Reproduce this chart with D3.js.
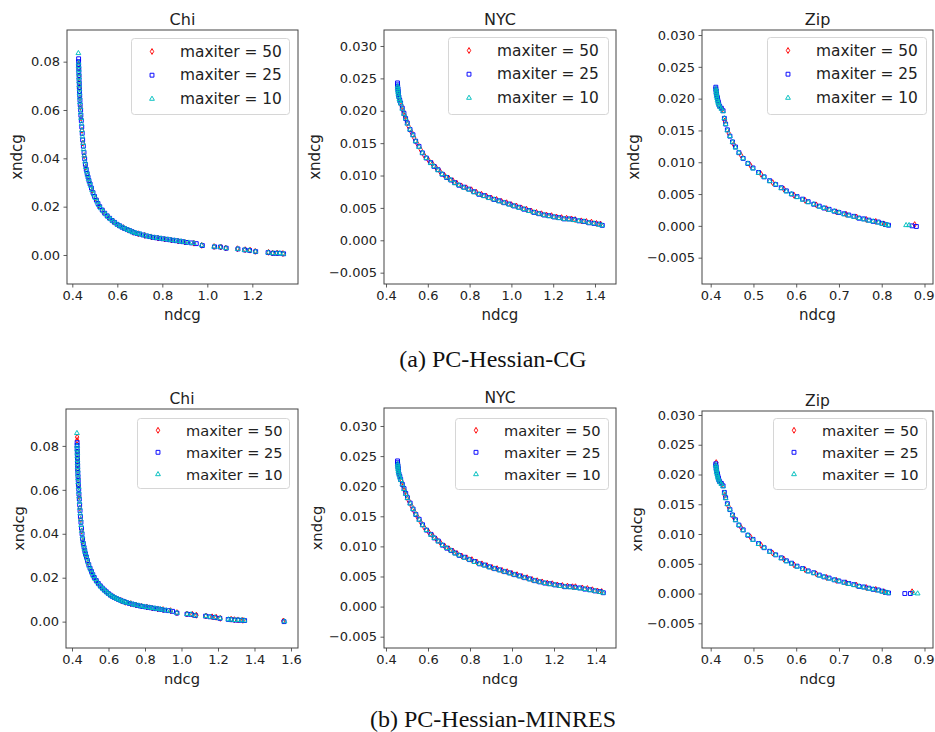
<!DOCTYPE html>
<html>
<head>
<meta charset="utf-8">
<script src="https://cdn.jsdelivr.net/npm/d3@7"></script>
<style>
  body { margin: 0; background: #fff; }
  svg { display: block; font-family: "DejaVu Sans", sans-serif; }
</style>
</head>
<body>
<script>
/**
 * DATA ([ndcg, xndcg])
 * */
const seriesNames = ["maxiter = 50", "maxiter = 25", "maxiter = 10"];
const panelTitles = ["Chi", "NYC", "Zip"];
const captions = ["(a) PC-Hessian-CG", "(b) PC-Hessian-MINRES"];

// x / y tick values
const chiXTicksCG = [0.4, 0.6, 0.8, 1.0, 1.2];
const chiXTicksMR = [0.4, 0.6, 0.8, 1.0, 1.2, 1.4, 1.6];
const chiYTicks = [0.00, 0.02, 0.04, 0.06, 0.08];
const nycXTicks = [0.4, 0.6, 0.8, 1.0, 1.2, 1.4];
const zipXTicks = [0.4, 0.5, 0.6, 0.7, 0.8, 0.9];
const smallYTicks = [-0.005, 0.000, 0.005, 0.010, 0.015, 0.020, 0.025, 0.030];

// ---- PC-Hessian-CG ----
const chiCG50 = [[0.428,0.0790],[0.429,0.0770],[0.430,0.0740],[0.431,0.0715],[0.432,0.0690],[0.434,0.0650],[0.436,0.0612],[0.439,0.0567],[0.443,0.0516],[0.447,0.0463],[0.453,0.0411],[0.460,0.0364],[0.468,0.0330],[0.476,0.0301],[0.488,0.0268],[0.503,0.0235],[0.518,0.0206],[0.538,0.0180],[0.560,0.0157],[0.582,0.0139],[0.604,0.0124],[0.627,0.0113],[0.649,0.0103],[0.671,0.0094],[0.693,0.0088],[0.722,0.0081],[0.751,0.0075],[0.781,0.0070],[0.810,0.0066],[0.840,0.0062],[0.870,0.0058],[0.899,0.0054],[0.940,0.0049],[0.975,0.0040],[1.030,0.0035],[1.060,0.0033],[1.082,0.0029],[1.134,0.0026],[1.168,0.0022],[1.190,0.0020],[1.213,0.0015],[1.272,0.0011],[1.290,0.0008],[1.310,0.0008],[1.336,0.0006]];
const chiCG25 = [[0.428,0.0812],[0.428,0.0800],[0.428,0.0787],[0.429,0.0773],[0.429,0.0758],[0.430,0.0742],[0.430,0.0726],[0.431,0.0710],[0.431,0.0694],[0.432,0.0677],[0.433,0.0660],[0.434,0.0641],[0.435,0.0622],[0.437,0.0600],[0.438,0.0578],[0.440,0.0556],[0.442,0.0530],[0.444,0.0503],[0.446,0.0476],[0.449,0.0450],[0.452,0.0424],[0.455,0.0398],[0.458,0.0375],[0.462,0.0354],[0.466,0.0337],[0.470,0.0322],[0.474,0.0308],[0.479,0.0294],[0.485,0.0277],[0.492,0.0258],[0.499,0.0242],[0.507,0.0227],[0.514,0.0213],[0.522,0.0200],[0.533,0.0186],[0.544,0.0173],[0.555,0.0162],[0.566,0.0152],[0.577,0.0143],[0.588,0.0135],[0.599,0.0127],[0.610,0.0121],[0.621,0.0115],[0.632,0.0110],[0.644,0.0105],[0.655,0.0101],[0.666,0.0096],[0.677,0.0092],[0.688,0.0089],[0.699,0.0087],[0.714,0.0083],[0.729,0.0079],[0.744,0.0076],[0.759,0.0073],[0.774,0.0071],[0.788,0.0069],[0.803,0.0067],[0.818,0.0065],[0.833,0.0063],[0.847,0.0061],[0.862,0.0059],[0.877,0.0057],[0.892,0.0055],[0.907,0.0052],[0.929,0.0050],[0.951,0.0047],[0.978,0.0039],[1.032,0.0034],[1.058,0.0033],[1.084,0.0028],[1.136,0.0025],[1.166,0.0021],[1.188,0.0019],[1.215,0.0014],[1.270,0.0010],[1.292,0.0007],[1.307,0.0007],[1.321,0.0007],[1.339,0.0005]];
const chiCG10 = [[0.427,0.0835],[0.428,0.0795],[0.428,0.0781],[0.429,0.0766],[0.429,0.0750],[0.430,0.0734],[0.430,0.0718],[0.431,0.0702],[0.432,0.0685],[0.432,0.0668],[0.433,0.0651],[0.434,0.0632],[0.436,0.0611],[0.437,0.0589],[0.439,0.0567],[0.441,0.0543],[0.443,0.0516],[0.445,0.0490],[0.448,0.0463],[0.450,0.0437],[0.453,0.0411],[0.457,0.0386],[0.460,0.0364],[0.464,0.0345],[0.468,0.0330],[0.472,0.0315],[0.477,0.0301],[0.482,0.0286],[0.488,0.0268],[0.495,0.0250],[0.503,0.0235],[0.511,0.0220],[0.518,0.0206],[0.527,0.0193],[0.538,0.0180],[0.549,0.0168],[0.560,0.0157],[0.571,0.0148],[0.582,0.0139],[0.593,0.0131],[0.604,0.0124],[0.615,0.0118],[0.627,0.0113],[0.638,0.0108],[0.649,0.0103],[0.660,0.0098],[0.671,0.0094],[0.682,0.0091],[0.693,0.0088],[0.706,0.0085],[0.722,0.0081],[0.737,0.0077],[0.751,0.0075],[0.766,0.0072],[0.781,0.0070],[0.795,0.0068],[0.810,0.0066],[0.825,0.0064],[0.840,0.0062],[0.855,0.0060],[0.870,0.0058],[0.884,0.0056],[0.899,0.0054],[0.918,0.0051],[0.940,0.0049],[0.975,0.0040],[1.030,0.0034],[1.057,0.0033],[1.083,0.0028],[1.135,0.0025],[1.165,0.0021],[1.187,0.0019],[1.214,0.0014],[1.271,0.0010],[1.291,0.0007],[1.308,0.0007],[1.322,0.0007],[1.338,0.0005]];

const nycCG50 = [[0.457,0.0235],[0.458,0.0230],[0.460,0.0226],[0.464,0.0219],[0.474,0.0208],[0.482,0.0200],[0.490,0.0192],[0.498,0.0185],[0.508,0.0176],[0.522,0.0167],[0.535,0.0158],[0.550,0.0149],[0.566,0.0140],[0.583,0.0131],[0.603,0.0124],[0.622,0.0118],[0.640,0.0112],[0.659,0.0106],[0.680,0.0100],[0.700,0.0096],[0.720,0.0092],[0.739,0.0088],[0.761,0.0084],[0.785,0.0081],[0.809,0.0078],[0.833,0.0074],[0.857,0.0071],[0.881,0.0068],[0.905,0.0065],[0.929,0.0063],[0.953,0.0060],[0.977,0.0058],[1.000,0.0055],[1.024,0.0053],[1.048,0.0050],[1.072,0.0048],[1.096,0.0045],[1.120,0.0043],[1.144,0.0041],[1.168,0.0039],[1.192,0.0038],[1.216,0.0036],[1.240,0.0035],[1.264,0.0034],[1.288,0.0033],[1.305,0.0032],[1.335,0.0030],[1.359,0.0029],[1.383,0.0028],[1.407,0.0026],[1.427,0.0025]];
const nycCG25 = [[0.455,0.0243],[0.455,0.0240],[0.456,0.0237],[0.457,0.0234],[0.458,0.0231],[0.459,0.0228],[0.460,0.0225],[0.462,0.0221],[0.466,0.0216],[0.470,0.0212],[0.478,0.0204],[0.486,0.0196],[0.494,0.0188],[0.502,0.0181],[0.515,0.0171],[0.529,0.0163],[0.542,0.0153],[0.558,0.0145],[0.574,0.0135],[0.593,0.0127],[0.614,0.0120],[0.630,0.0114],[0.649,0.0109],[0.669,0.0102],[0.690,0.0097],[0.710,0.0093],[0.729,0.0089],[0.749,0.0085],[0.773,0.0082],[0.797,0.0079],[0.821,0.0075],[0.845,0.0071],[0.869,0.0069],[0.893,0.0066],[0.917,0.0063],[0.941,0.0061],[0.965,0.0058],[0.989,0.0056],[1.012,0.0053],[1.036,0.0051],[1.060,0.0048],[1.084,0.0046],[1.108,0.0043],[1.132,0.0041],[1.156,0.0039],[1.180,0.0038],[1.204,0.0036],[1.228,0.0035],[1.252,0.0033],[1.276,0.0033],[1.300,0.0032],[1.323,0.0030],[1.347,0.0029],[1.371,0.0027],[1.395,0.0026],[1.419,0.0025],[1.435,0.0023]];
const nycCG10 = [[0.456,0.0238],[0.456,0.0235],[0.457,0.0232],[0.458,0.0229],[0.459,0.0226],[0.461,0.0222],[0.464,0.0218],[0.467,0.0215],[0.471,0.0211],[0.478,0.0203],[0.486,0.0195],[0.494,0.0188],[0.502,0.0180],[0.515,0.0171],[0.529,0.0162],[0.542,0.0153],[0.558,0.0144],[0.574,0.0135],[0.593,0.0127],[0.614,0.0119],[0.630,0.0114],[0.649,0.0108],[0.669,0.0102],[0.690,0.0097],[0.710,0.0093],[0.729,0.0088],[0.749,0.0085],[0.773,0.0081],[0.797,0.0078],[0.821,0.0074],[0.845,0.0071],[0.869,0.0068],[0.893,0.0065],[0.917,0.0063],[0.941,0.0060],[0.965,0.0058],[0.989,0.0055],[1.012,0.0053],[1.036,0.0050],[1.060,0.0048],[1.084,0.0045],[1.108,0.0043],[1.132,0.0041],[1.156,0.0039],[1.180,0.0037],[1.204,0.0036],[1.228,0.0034],[1.252,0.0033],[1.276,0.0032],[1.300,0.0031],[1.323,0.0030],[1.347,0.0029],[1.371,0.0027],[1.395,0.0026],[1.419,0.0024],[1.433,0.0023]];

const zipCG50 = [[0.413,0.0214],[0.414,0.0208],[0.416,0.0202],[0.418,0.0196],[0.420,0.0190],[0.427,0.0183],[0.433,0.0165],[0.442,0.0146],[0.454,0.0128],[0.471,0.0111],[0.493,0.0095],[0.518,0.0081],[0.545,0.0068],[0.571,0.0058],[0.595,0.0048],[0.621,0.0040],[0.647,0.0033],[0.671,0.0027],[0.694,0.0022],[0.717,0.0018],[0.741,0.0014],[0.764,0.0010],[0.786,0.0007],[0.805,0.0003],[0.877,0.0002]];
const zipCG25 = [[0.412,0.0218],[0.412,0.0215],[0.413,0.0212],[0.413,0.0209],[0.414,0.0206],[0.415,0.0203],[0.416,0.0200],[0.417,0.0197],[0.418,0.0194],[0.419,0.0191],[0.421,0.0188],[0.425,0.0185],[0.429,0.0181],[0.432,0.0169],[0.435,0.0160],[0.439,0.0151],[0.445,0.0141],[0.451,0.0132],[0.458,0.0124],[0.466,0.0115],[0.476,0.0106],[0.487,0.0098],[0.499,0.0091],[0.512,0.0084],[0.525,0.0077],[0.538,0.0071],[0.552,0.0065],[0.565,0.0060],[0.577,0.0055],[0.589,0.0050],[0.602,0.0046],[0.615,0.0042],[0.628,0.0038],[0.641,0.0034],[0.654,0.0031],[0.665,0.0028],[0.677,0.0026],[0.689,0.0023],[0.700,0.0021],[0.712,0.0019],[0.723,0.0017],[0.735,0.0015],[0.747,0.0012],[0.758,0.0011],[0.770,0.0009],[0.780,0.0007],[0.792,0.0006],[0.801,0.0004],[0.809,0.0002],[0.816,0.0001],[0.871,0.0000],[0.881,-0.0001]];
const zipCG10 = [[0.412,0.0216],[0.413,0.0213],[0.413,0.0210],[0.414,0.0207],[0.414,0.0204],[0.415,0.0201],[0.416,0.0198],[0.417,0.0195],[0.418,0.0193],[0.420,0.0190],[0.422,0.0187],[0.425,0.0184],[0.429,0.0180],[0.432,0.0169],[0.435,0.0160],[0.439,0.0150],[0.445,0.0141],[0.451,0.0132],[0.458,0.0123],[0.466,0.0115],[0.476,0.0106],[0.487,0.0098],[0.499,0.0090],[0.512,0.0083],[0.525,0.0077],[0.538,0.0070],[0.552,0.0065],[0.565,0.0059],[0.577,0.0054],[0.589,0.0050],[0.602,0.0045],[0.615,0.0041],[0.628,0.0037],[0.641,0.0034],[0.654,0.0030],[0.665,0.0028],[0.677,0.0025],[0.689,0.0023],[0.700,0.0021],[0.712,0.0018],[0.723,0.0016],[0.735,0.0014],[0.747,0.0012],[0.758,0.0010],[0.770,0.0008],[0.780,0.0007],[0.792,0.0005],[0.801,0.0003],[0.809,0.0002],[0.815,0.0001],[0.857,0.0001],[0.864,0.0001]];

// ---- PC-Hessian-MINRES ----
const chiMR50 = [[0.428,0.0840],[0.428,0.0825],[0.429,0.0772],[0.430,0.0742],[0.431,0.0716],[0.432,0.0688],[0.434,0.0652],[0.436,0.0614],[0.439,0.0569],[0.443,0.0518],[0.447,0.0465],[0.453,0.0413],[0.460,0.0366],[0.468,0.0331],[0.476,0.0302],[0.488,0.0269],[0.503,0.0236],[0.518,0.0207],[0.538,0.0181],[0.560,0.0158],[0.582,0.0140],[0.604,0.0125],[0.627,0.0113],[0.649,0.0103],[0.671,0.0095],[0.693,0.0088],[0.722,0.0082],[0.751,0.0076],[0.781,0.0071],[0.810,0.0067],[0.840,0.0062],[0.870,0.0058],[0.899,0.0055],[0.940,0.0050],[0.975,0.0041],[1.030,0.0035],[1.060,0.0033],[1.082,0.0029],[1.134,0.0026],[1.168,0.0022],[1.190,0.0020],[1.213,0.0015],[1.272,0.0011],[1.290,0.0009],[1.310,0.0008],[1.336,0.0006],[1.558,0.0003]];
const chiMR25 = [[0.428,0.0815],[0.428,0.0802],[0.428,0.0789],[0.429,0.0775],[0.429,0.0760],[0.430,0.0744],[0.430,0.0728],[0.431,0.0712],[0.431,0.0696],[0.432,0.0679],[0.433,0.0662],[0.434,0.0643],[0.435,0.0624],[0.437,0.0602],[0.438,0.0580],[0.440,0.0558],[0.442,0.0532],[0.444,0.0505],[0.446,0.0478],[0.449,0.0452],[0.452,0.0426],[0.455,0.0400],[0.458,0.0377],[0.462,0.0356],[0.466,0.0338],[0.470,0.0323],[0.474,0.0309],[0.479,0.0295],[0.485,0.0278],[0.492,0.0259],[0.499,0.0243],[0.507,0.0228],[0.514,0.0214],[0.522,0.0201],[0.533,0.0187],[0.544,0.0174],[0.555,0.0163],[0.566,0.0153],[0.577,0.0144],[0.588,0.0136],[0.599,0.0128],[0.610,0.0121],[0.621,0.0115],[0.632,0.0110],[0.644,0.0105],[0.655,0.0101],[0.666,0.0097],[0.677,0.0093],[0.688,0.0090],[0.699,0.0087],[0.714,0.0083],[0.729,0.0080],[0.744,0.0077],[0.759,0.0074],[0.774,0.0071],[0.788,0.0069],[0.803,0.0067],[0.818,0.0065],[0.833,0.0063],[0.847,0.0061],[0.862,0.0059],[0.877,0.0057],[0.892,0.0055],[0.907,0.0052],[0.929,0.0050],[0.951,0.0047],[0.975,0.0039],[1.030,0.0034],[1.052,0.0033],[1.075,0.0028],[1.132,0.0025],[1.156,0.0022],[1.182,0.0019],[1.210,0.0015],[1.256,0.0010],[1.272,0.0009],[1.292,0.0007],[1.310,0.0007],[1.328,0.0006],[1.346,0.0005],[1.562,0.0000]];
const chiMR10 = [[0.427,0.0858],[0.428,0.0800],[0.428,0.0783],[0.429,0.0768],[0.429,0.0752],[0.430,0.0736],[0.430,0.0720],[0.431,0.0704],[0.432,0.0687],[0.432,0.0670],[0.433,0.0653],[0.434,0.0634],[0.436,0.0613],[0.437,0.0591],[0.439,0.0569],[0.441,0.0545],[0.443,0.0518],[0.445,0.0492],[0.448,0.0465],[0.450,0.0439],[0.453,0.0413],[0.457,0.0388],[0.460,0.0366],[0.464,0.0347],[0.468,0.0331],[0.472,0.0316],[0.477,0.0302],[0.482,0.0287],[0.488,0.0269],[0.495,0.0251],[0.503,0.0236],[0.511,0.0221],[0.518,0.0207],[0.527,0.0194],[0.538,0.0181],[0.549,0.0169],[0.560,0.0158],[0.571,0.0149],[0.582,0.0140],[0.593,0.0132],[0.604,0.0125],[0.615,0.0118],[0.627,0.0113],[0.638,0.0108],[0.649,0.0103],[0.660,0.0099],[0.671,0.0095],[0.682,0.0091],[0.693,0.0088],[0.706,0.0085],[0.722,0.0082],[0.737,0.0078],[0.751,0.0076],[0.766,0.0073],[0.781,0.0070],[0.795,0.0068],[0.810,0.0066],[0.825,0.0064],[0.840,0.0062],[0.855,0.0060],[0.870,0.0058],[0.884,0.0056],[0.899,0.0054],[0.918,0.0051],[0.940,0.0049],[0.974,0.0040],[1.031,0.0034],[1.053,0.0033],[1.076,0.0028],[1.133,0.0025],[1.157,0.0022],[1.183,0.0019],[1.211,0.0015],[1.257,0.0010],[1.273,0.0009],[1.293,0.0007],[1.311,0.0007],[1.329,0.0006],[1.345,0.0005],[1.564,0.0001]];

const nycMR50 = [[0.457,0.0236],[0.458,0.0231],[0.460,0.0226],[0.464,0.0219],[0.474,0.0208],[0.482,0.0200],[0.490,0.0192],[0.498,0.0185],[0.508,0.0176],[0.522,0.0167],[0.535,0.0158],[0.550,0.0149],[0.566,0.0140],[0.583,0.0131],[0.603,0.0124],[0.622,0.0118],[0.640,0.0112],[0.659,0.0106],[0.680,0.0100],[0.700,0.0096],[0.720,0.0092],[0.739,0.0088],[0.761,0.0084],[0.785,0.0081],[0.809,0.0078],[0.833,0.0074],[0.857,0.0071],[0.881,0.0068],[0.905,0.0065],[0.929,0.0063],[0.953,0.0060],[0.977,0.0058],[1.000,0.0055],[1.024,0.0053],[1.048,0.0050],[1.072,0.0048],[1.096,0.0045],[1.120,0.0043],[1.144,0.0041],[1.168,0.0039],[1.192,0.0038],[1.216,0.0036],[1.240,0.0035],[1.264,0.0034],[1.288,0.0033],[1.302,0.0033],[1.335,0.0031],[1.359,0.0030],[1.383,0.0028],[1.407,0.0026],[1.427,0.0025]];
const nycMR25 = [[0.455,0.0242],[0.455,0.0239],[0.456,0.0236],[0.457,0.0233],[0.458,0.0230],[0.459,0.0227],[0.460,0.0224],[0.462,0.0220],[0.466,0.0216],[0.470,0.0211],[0.478,0.0203],[0.486,0.0196],[0.494,0.0188],[0.502,0.0181],[0.515,0.0172],[0.529,0.0162],[0.542,0.0153],[0.558,0.0145],[0.574,0.0136],[0.593,0.0127],[0.614,0.0120],[0.630,0.0114],[0.649,0.0109],[0.669,0.0102],[0.690,0.0097],[0.710,0.0093],[0.729,0.0089],[0.749,0.0085],[0.773,0.0082],[0.797,0.0078],[0.821,0.0075],[0.845,0.0071],[0.869,0.0069],[0.893,0.0066],[0.917,0.0063],[0.941,0.0061],[0.965,0.0058],[0.989,0.0056],[1.012,0.0053],[1.036,0.0051],[1.060,0.0048],[1.084,0.0046],[1.108,0.0043],[1.132,0.0041],[1.156,0.0039],[1.180,0.0038],[1.204,0.0036],[1.228,0.0035],[1.252,0.0033],[1.276,0.0033],[1.300,0.0032],[1.323,0.0031],[1.347,0.0029],[1.371,0.0028],[1.395,0.0026],[1.419,0.0025],[1.435,0.0023]];
const nycMR10 = [[0.456,0.0237],[0.456,0.0234],[0.457,0.0231],[0.458,0.0228],[0.459,0.0225],[0.461,0.0222],[0.464,0.0218],[0.467,0.0214],[0.471,0.0210],[0.478,0.0203],[0.486,0.0195],[0.494,0.0187],[0.502,0.0180],[0.515,0.0171],[0.529,0.0162],[0.542,0.0153],[0.558,0.0144],[0.574,0.0135],[0.593,0.0127],[0.614,0.0119],[0.630,0.0114],[0.649,0.0108],[0.669,0.0102],[0.690,0.0097],[0.710,0.0093],[0.729,0.0088],[0.749,0.0085],[0.773,0.0081],[0.797,0.0078],[0.821,0.0074],[0.845,0.0071],[0.869,0.0068],[0.893,0.0065],[0.917,0.0063],[0.941,0.0060],[0.965,0.0058],[0.989,0.0055],[1.012,0.0053],[1.036,0.0050],[1.060,0.0048],[1.084,0.0045],[1.108,0.0043],[1.132,0.0041],[1.156,0.0039],[1.180,0.0037],[1.204,0.0036],[1.228,0.0034],[1.252,0.0033],[1.276,0.0032],[1.300,0.0031],[1.323,0.0030],[1.347,0.0029],[1.371,0.0027],[1.395,0.0026],[1.419,0.0024],[1.433,0.0023]];

const zipMR50 = [[0.413,0.0220],[0.414,0.0209],[0.416,0.0202],[0.418,0.0196],[0.420,0.0190],[0.427,0.0183],[0.433,0.0165],[0.442,0.0146],[0.454,0.0128],[0.471,0.0111],[0.493,0.0095],[0.518,0.0081],[0.545,0.0068],[0.571,0.0058],[0.595,0.0048],[0.621,0.0040],[0.647,0.0033],[0.671,0.0027],[0.694,0.0022],[0.717,0.0018],[0.741,0.0014],[0.764,0.0010],[0.786,0.0007],[0.805,0.0003],[0.871,0.0003]];
const zipMR25 = [[0.412,0.0218],[0.412,0.0215],[0.413,0.0212],[0.413,0.0209],[0.414,0.0206],[0.415,0.0203],[0.416,0.0200],[0.417,0.0197],[0.418,0.0194],[0.419,0.0191],[0.421,0.0188],[0.425,0.0185],[0.429,0.0181],[0.432,0.0170],[0.435,0.0161],[0.439,0.0151],[0.445,0.0141],[0.451,0.0132],[0.458,0.0124],[0.466,0.0115],[0.476,0.0107],[0.487,0.0098],[0.499,0.0091],[0.512,0.0084],[0.525,0.0077],[0.538,0.0071],[0.552,0.0065],[0.565,0.0060],[0.577,0.0055],[0.589,0.0051],[0.602,0.0046],[0.615,0.0042],[0.628,0.0038],[0.641,0.0035],[0.654,0.0031],[0.665,0.0028],[0.677,0.0026],[0.689,0.0023],[0.700,0.0021],[0.712,0.0019],[0.723,0.0017],[0.735,0.0015],[0.747,0.0012],[0.758,0.0011],[0.770,0.0009],[0.780,0.0007],[0.792,0.0006],[0.801,0.0004],[0.809,0.0002],[0.816,0.0001],[0.854,0.0000],[0.867,0.0000]];
const zipMR10 = [[0.412,0.0216],[0.413,0.0213],[0.413,0.0210],[0.414,0.0207],[0.414,0.0204],[0.415,0.0201],[0.416,0.0198],[0.417,0.0195],[0.418,0.0193],[0.420,0.0190],[0.422,0.0187],[0.425,0.0184],[0.429,0.0180],[0.432,0.0169],[0.435,0.0160],[0.439,0.0150],[0.445,0.0141],[0.451,0.0132],[0.458,0.0123],[0.466,0.0115],[0.476,0.0106],[0.487,0.0098],[0.499,0.0090],[0.512,0.0083],[0.525,0.0077],[0.538,0.0070],[0.552,0.0065],[0.565,0.0059],[0.577,0.0054],[0.589,0.0050],[0.602,0.0045],[0.615,0.0041],[0.628,0.0037],[0.641,0.0034],[0.654,0.0030],[0.665,0.0028],[0.677,0.0025],[0.689,0.0023],[0.700,0.0021],[0.712,0.0018],[0.723,0.0016],[0.735,0.0014],[0.747,0.0012],[0.758,0.0010],[0.770,0.0008],[0.780,0.0007],[0.792,0.0005],[0.801,0.0003],[0.809,0.0002],[0.815,0.0001],[0.874,0.0001],[0.884,0.0000]];

/**
 * CONSTANTS AND GLOBALS
 * */
const width = 935, height = 732;
const colors = ["#ff0000", "#0000ff", "#00bfbf"];
const symbols = [
  d3.symbol().type(d3.symbolDiamond).size(10)(),
  d3.symbol().type(d3.symbolSquare).size(15)(),
  d3.symbol().type(d3.symbolTriangle).size(10)()
];

// plot boxes and axis limits (matplotlib figure layout)
const panels = [
  { title: panelTitles[0], data: [chiCG50, chiCG25, chiCG10], box: [67, 298, 30, 284], xDom: [0.3764, 1.403], yDom: [-0.0120, 0.0931],
    xTicks: chiXTicksCG, yTicks: chiYTicks, xFmt: ".1f", yFmt: ".2f", legend: [131, 38, 158, 76], row: [13.5, 37.2, 60.9], lf: 15.4, yl: 17, tf: 16, af: 15 },
  { title: panelTitles[1], data: [nycCG50, nycCG25, nycCG10], box: [384, 616, 30, 284], xDom: [0.3904, 1.5005], yDom: [-0.00675, 0.03247],
    xTicks: nycXTicks, yTicks: smallYTicks, xFmt: ".1f", yFmt: ".3f", legend: [448, 37, 160, 77], row: [13.5, 37.2, 60.9], lf: 15.4, yl: 315, tf: 16, af: 15 },
  { title: panelTitles[2], data: [zipCG50, zipCG25, zipCG10], box: [702, 933, 30, 284], xDom: [0.3797, 0.9199], yDom: [-0.00914, 0.03079],
    xTicks: zipXTicks, yTicks: smallYTicks, xFmt: ".1f", yFmt: ".3f", legend: [767, 37, 159, 77], row: [13.5, 37.2, 60.9], lf: 15.4, yl: 633.5, tf: 16, af: 15 },
  { title: panelTitles[0], data: [chiMR50, chiMR25, chiMR10], box: [66, 298, 409, 648], xDom: [0.3671, 1.6384], yDom: [-0.0120, 0.0968],
    xTicks: chiXTicksMR, yTicks: chiYTicks, xFmt: ".1f", yFmt: ".2f", legend: [137, 418, 152, 70], row: [12.3, 34.3, 56.3], lf: 14.6, yl: 18.3, tf: 15.5, af: 14.7 },
  { title: panelTitles[1], data: [nycMR50, nycMR25, nycMR10], box: [384, 616, 408, 648], xDom: [0.3905, 1.4952], yDom: [-0.00688, 0.03299],
    xTicks: nycXTicks, yTicks: smallYTicks, xFmt: ".1f", yFmt: ".3f", legend: [455, 418, 153, 71], row: [12.3, 34.3, 56.3], lf: 14.6, yl: 316.7, tf: 15.5, af: 14.7 },
  { title: panelTitles[2], data: [zipMR50, zipMR25, zipMR10], box: [702, 933, 411, 648], xDom: [0.3797, 0.9199], yDom: [-0.00915, 0.03067],
    xTicks: zipXTicks, yTicks: smallYTicks, xFmt: ".1f", yFmt: ".3f", legend: [773, 418, 153, 71], row: [12.3, 34.3, 56.3], lf: 14.6, yl: 636.7, tf: 15.5, af: 14.7 }
];

const svg = d3.select("body")
  .append("svg")
  .attr("width", width)
  .attr("height", height)
  .attr("viewBox", `0 0 ${width} ${height}`);

svg.append("rect").attr("width", width).attr("height", height).attr("fill", "#fff");

panels.forEach((p, pi) => {
  const [x0, x1, y0, y1] = p.box;
  const x = d3.scaleLinear().domain(p.xDom).range([x0, x1]);
  const y = d3.scaleLinear().domain(p.yDom).range([y1, y0]);
  const g = svg.append("g").attr("class", "panel");

  const clipId = "clip" + pi;
  g.append("clipPath").attr("id", clipId)
    .append("rect").attr("x", x0).attr("y", y0).attr("width", x1 - x0).attr("height", y1 - y0);

  // scatter markers: 50 (red) first, 25 (blue), 10 (cyan) on top
  const marks = g.append("g").attr("clip-path", `url(#${clipId})`);
  p.data.forEach((series, si) => {
    marks.append("g")
      .selectAll("path")
      .data(series)
      .join("path")
      .attr("d", symbols[si])
      .attr("transform", d => `translate(${x(d[0])},${y(d[1])})`)
      .attr("fill", "none")
      .attr("stroke", colors[si])
      .attr("stroke-width", 0.95);
  });

  // axes
  const xAxis = g.append("g")
    .attr("transform", `translate(0,${y1})`)
    .call(d3.axisBottom(x).tickValues(p.xTicks).tickFormat(d3.format(p.xFmt)).tickSize(3.5).tickPadding(3.5).tickSizeOuter(0));
  const yAxis = g.append("g")
    .attr("transform", `translate(${x0},0)`)
    .call(d3.axisLeft(y).tickValues(p.yTicks).tickFormat(d3.format(p.yFmt)).tickSize(3.5).tickPadding(3.5).tickSizeOuter(0));
  [xAxis, yAxis].forEach(a => {
    a.select(".domain").remove();
    a.selectAll("line").attr("stroke", "#333").attr("stroke-width", 0.8);
    a.selectAll("text").attr("fill", "#222").style("font-size", "13px").style("font-family", "DejaVu Sans");
  });

  // keep the last x tick label inside the page
  xAxis.selectAll(".tick text").each(function () {
    const bb = this.getBBox();
    const tx = +this.parentNode.getAttribute("transform").match(/translate\(([-\d.]+)/)[1];
    const over = tx + bb.x + bb.width - (width - 0.5);
    if (over > 0) d3.select(this).attr("x", -over);
  });

  // frame
  g.append("rect")
    .attr("x", x0).attr("y", y0)
    .attr("width", x1 - x0).attr("height", y1 - y0)
    .attr("fill", "none").attr("stroke", "#444").attr("stroke-width", 1);

  // title and axis labels
  g.append("text")
    .attr("x", (x0 + x1) / 2).attr("y", y0 - 5.5)
    .attr("text-anchor", "middle")
    .style("font-size", p.tf + "px").attr("fill", "#222")
    .text(p.title);
  g.append("text")
    .attr("x", (x0 + x1) / 2).attr("y", y1 + 36)
    .attr("text-anchor", "middle")
    .style("font-size", p.af + "px").attr("fill", "#222")
    .text("ndcg");
  g.append("text")
    .attr("transform", `translate(${p.yl},${(y0 + y1) / 2}) rotate(-90)`)
    .attr("text-anchor", "middle")
    .attr("dominant-baseline", "central")
    .style("font-size", p.af + "px").attr("fill", "#222")
    .text("xndcg");

  // legend
  const [lx, ly, lw, lh] = p.legend;
  const legend = g.append("g").attr("class", "legend");
  legend.append("rect")
    .attr("x", lx + 0.5).attr("y", ly + 0.5)
    .attr("width", lw).attr("height", lh)
    .attr("rx", 3)
    .attr("fill", "#fff").attr("fill-opacity", 0.8)
    .attr("stroke", "#d6d6d6").attr("stroke-width", 1);
  seriesNames.forEach((name, si) => {
    const cy = ly + p.row[si];
    legend.append("path")
      .attr("d", symbols[si])
      .attr("transform", `translate(${lx + 21},${cy})`)
      .attr("fill", "none").attr("stroke", colors[si]).attr("stroke-width", 0.95);
    legend.append("text")
      .attr("x", lx + 49).attr("y", cy)
      .attr("dominant-baseline", "central")
      .style("font-size", p.lf + "px").attr("fill", "#222")
      .text(name);
  });
});

// sub-figure captions
svg.selectAll("text.caption")
  .data(captions)
  .join("text")
  .attr("class", "caption")
  .attr("x", 493)
  .attr("y", (d, i) => i === 0 ? 367 : 726.5)
  .attr("text-anchor", "middle")
  .style("font-family", "'Liberation Serif', serif")
  .style("font-size", "24px")
  .attr("fill", "#111")
  .text(d => d);
</script>
</body>
</html>
